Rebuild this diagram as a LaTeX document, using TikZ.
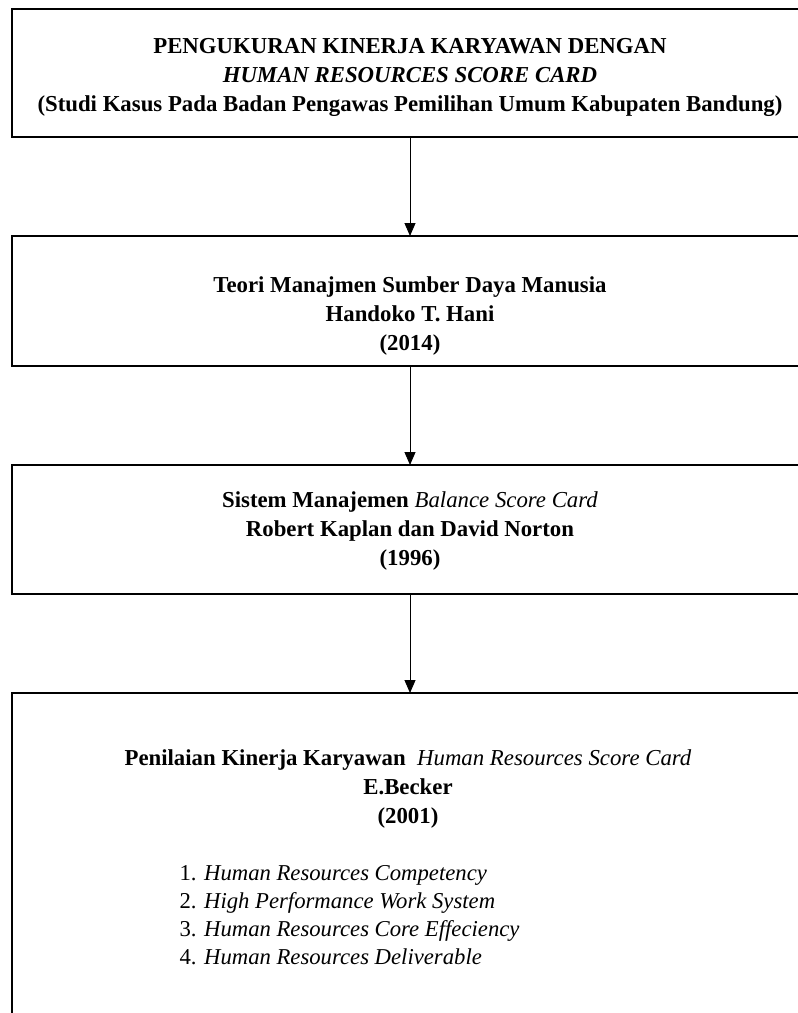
\documentclass[tikz,border=0pt]{standalone}
\usepackage{fontspec}
\setmainfont{Liberation Serif}
\usetikzlibrary{arrows.meta,positioning}

\begin{document}
\begin{tikzpicture}[x=1pt, y=-1pt,
    box/.style={draw, line width=1.5pt, minimum width=796pt, inner sep=0pt, outer sep=0pt},
    judultxt/.style={align=center, font=\fontsize{22.8}{29}\selectfont\bfseries},
    isitxt/.style={align=left, font=\fontsize{22.7}{28}\selectfont},
    panah/.style={-{Triangle[length=13pt, width=11pt]}, line width=1pt}]
    \useasboundingbox (0,0) rectangle (798,1013);
    \clip (0,0) rectangle (798,1013);

    % Boxes
    \node[box, minimum height=128pt] (judul) at (410,73) {};
    \node[box, minimum height=130pt, below=99pt of judul] (teori) {};
    \node[box, minimum height=129pt, below=99pt of teori] (bsc) {};
    \node[box, minimum height=350pt, below=99pt of bsc] (hrsc) {};

    % Texts
    \node[judultxt] (t1) at (410,77) {PENGUKURAN KINERJA KARYAWAN DENGAN\\
        \textit{HUMAN RESOURCES SCORE CARD}\\
        (Studi Kasus Pada Badan Pengawas Pemilihan Umum Kabupaten Bandung)};
    \node[judultxt] (t2) at (410,316) {Teori Manajmen Sumber Daya Manusia\\
        Handoko T. Hani\\(2014)};
    \node[judultxt] (t3) at (410,531) {Sistem Manajemen \textmd{\textit{Balance Score Card}}\\
        Robert Kaplan dan David Norton\\(1996)};
    \node[judultxt] (t4) at (408,789) {Penilaian Kinerja Karyawan \ \textmd{\textit{Human Resources Score Card}}\\
        E.Becker\\(2001)};
    \node[isitxt, anchor=west] (daftar) at (176,915) {1. \textit{Human Resources Competency}\\
        2. \textit{High Performance Work System}\\
        3. \textit{Human Resources Core Effeciency}\\
        4. \textit{Human Resources Deliverable}};

    % Arrows
    \draw[panah] (judul) -- (teori);
    \draw[panah] (teori) -- (bsc);
    \draw[panah] (bsc) -- (hrsc);
\end{tikzpicture}
\end{document}
